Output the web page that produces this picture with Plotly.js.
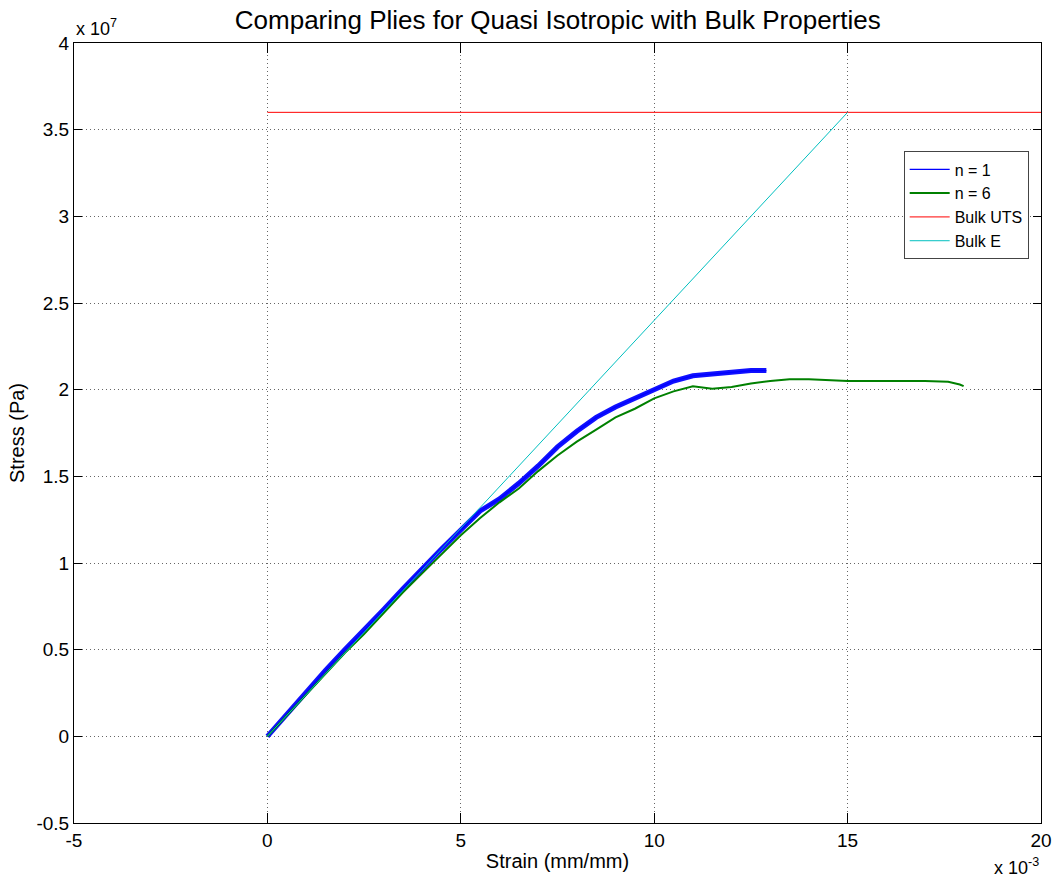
<!DOCTYPE html>
<html>
<head>
<meta charset="utf-8">
<script src="https://cdn.plot.ly/plotly-3.0.1.min.js"></script>
<style>html,body{margin:0;padding:0;background:#fff;}#chart{width:1060px;height:882px;}</style>
</head>
<body>
<div id="chart"></div>
<script>
// Strain in units of 1e-3 mm/mm, stress in units of 1e7 Pa
const strain_n1 = [0, 0.5, 1, 1.5, 2, 2.5, 3, 3.5, 4, 4.5, 5, 5.5, 6, 6.5, 7, 7.5, 8, 8.5, 9, 9.5, 10, 10.5, 11, 11.5, 12, 12.5, 12.9];
const stress_n1 = [0, 0.13, 0.25, 0.38, 0.50, 0.61, 0.73, 0.85, 0.97, 1.08, 1.19, 1.30, 1.37, 1.46, 1.56, 1.67, 1.76, 1.84, 1.90, 1.95, 2.00, 2.05, 2.08, 2.09, 2.10, 2.11, 2.11];

const strain_n6 = [0, 0.5, 1, 1.5, 2, 2.5, 3, 3.5, 4, 4.5, 5, 5.5, 6, 6.5, 7, 7.5, 8, 8.5, 9, 9.5, 10, 10.5, 11, 11.5, 12, 12.5, 13, 13.5, 14, 15, 16, 17, 17.6, 17.9, 18];
const stress_n6 = [0, 0.12, 0.24, 0.36, 0.48, 0.59, 0.71, 0.83, 0.94, 1.05, 1.16, 1.26, 1.35, 1.43, 1.53, 1.62, 1.70, 1.77, 1.84, 1.89, 1.95, 1.99, 2.02, 2.005, 2.015, 2.035, 2.05, 2.06, 2.06, 2.05, 2.05, 2.05, 2.045, 2.03, 2.02];

const strain_uts = [0, 20];
const stress_uts = [3.6, 3.6];

const strain_bulkE = [0, 15];
const stress_bulkE = [0, 3.6];

const xTickVals = [-5, 0, 5, 10, 15, 20];
const xTickText = ['-5', '0', '5', '10', '15', '20'];
const yTickVals = [-0.5, 0, 0.5, 1, 1.5, 2, 2.5, 3, 3.5, 4];
const yTickText = ['-0.5', '0', '0.5', '1', '1.5', '2', '2.5', '3', '3.5', '4'];

const FONT = 'Liberation Sans, Arial, Helvetica, sans-serif';

const traces = [
  // noisy band of the n = 1 measurement (thick), legend uses the thin line below
  {x: strain_n1, y: stress_n1, name: 'n = 1', mode: 'lines', showlegend: false, legendgroup: 'n1',
   line: {color: '#1010ff', width: 5}},
  {x: strain_n1, y: stress_n1, name: 'n = 1', mode: 'lines', legendgroup: 'n1', line: {color: '#0000ff', width: 1.2}},
  {x: strain_n6, y: stress_n6, name: 'n = 6', mode: 'lines', line: {color: '#008000', width: 2}},
  {x: strain_uts, y: stress_uts, name: 'Bulk UTS', mode: 'lines', line: {color: '#ff0000', width: 1}},
  {x: strain_bulkE, y: stress_bulkE, name: 'Bulk E', mode: 'lines', line: {color: '#00bfbf', width: 1}}
];

const axisCommon = {
  showline: true, linecolor: '#000', linewidth: 1, mirror: 'ticks',
  ticks: 'inside', tickcolor: '#000', tickwidth: 1,
  showgrid: true, gridcolor: '#666', gridwidth: 1, griddash: '1px,3px',
  zeroline: false, tickfont: {family: FONT, size: 19, color: '#000'},
  tickmode: 'array'
};

const layout = {
  width: 1060, height: 882,
  margin: {l: 74, r: 19, t: 43, b: 59, pad: 0},
  paper_bgcolor: '#fff', plot_bgcolor: '#fff',
  font: {family: FONT, color: '#000'},
  title: {text: 'Comparing Plies for Quasi Isotropic with Bulk Properties', font: {family: FONT, size: 26, color: '#000'}, x: 0.5262, xanchor: 'center', y: 0.977, yanchor: 'middle'},
  xaxis: Object.assign({}, axisCommon, {
    range: [-5, 20], tickvals: xTickVals, ticktext: xTickText, ticklen: 10,
    title: {text: 'Strain (mm/mm)', font: {family: FONT, size: 20, color: '#000'}, standoff: 4}
  }),
  yaxis: Object.assign({}, axisCommon, {
    range: [-0.5, 4], tickvals: yTickVals, ticktext: yTickText, ticklen: 8,
    title: {text: 'Stress (Pa)', font: {family: FONT, size: 20, color: '#000'}, standoff: 6}
  }),
  showlegend: true,
  legend: {
    x: 0.858, xanchor: 'left', y: 0.861, yanchor: 'top',
    bgcolor: '#fff', bordercolor: '#444', borderwidth: 1, itemwidth: 40,
    font: {family: FONT, size: 16, color: '#000'}, tracegroupgap: 0
  },
  annotations: [
    {xref: 'paper', yref: 'paper', x: 0, y: 1, xanchor: 'left', yanchor: 'bottom', yshift: 2, showarrow: false,
     text: 'x 10<sup>7</sup>', font: {family: FONT, size: 18, color: '#000'}},
    {xref: 'paper', yref: 'paper', x: 1, y: 0, xanchor: 'right', yanchor: 'top', yshift: -30, showarrow: false,
     text: 'x 10<sup>-3</sup>', font: {family: FONT, size: 18, color: '#000'}}
  ]
};

Plotly.newPlot('chart', traces, layout, {displayModeBar: false, staticPlot: true});
</script>
</body>
</html>
